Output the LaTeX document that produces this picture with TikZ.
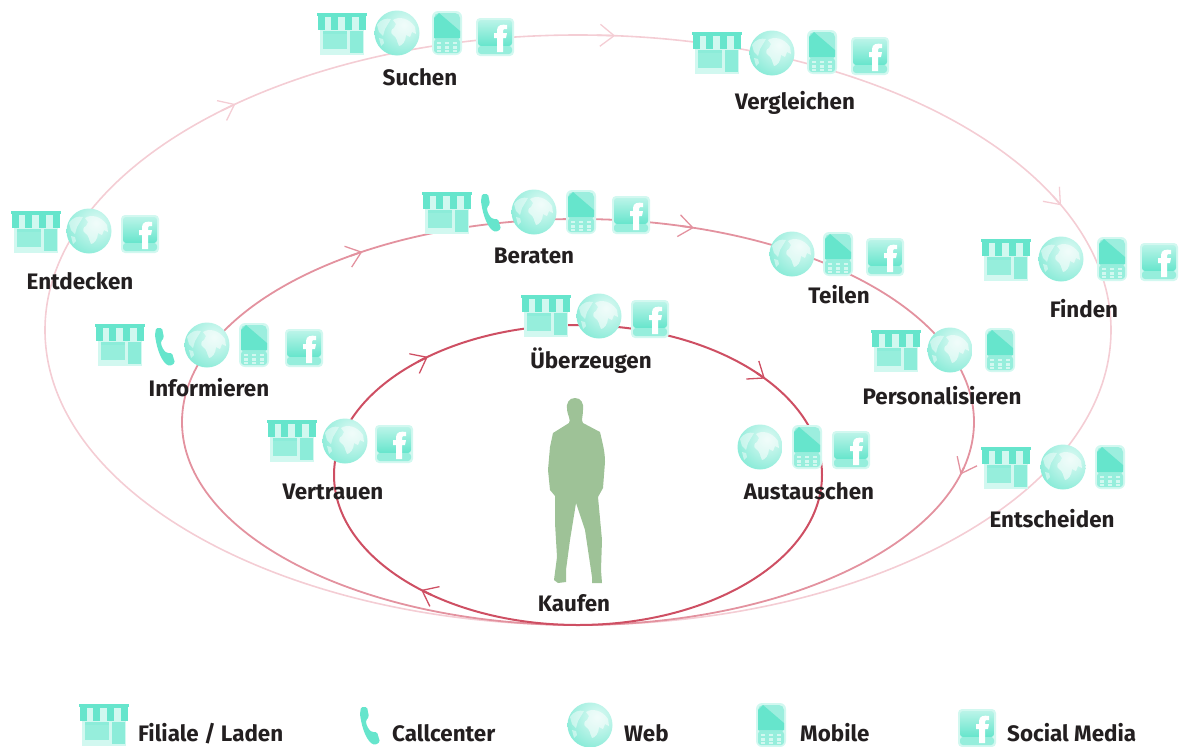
\documentclass[tikz,border=0pt]{standalone}
\usepackage{fontspec}
\setmainfont{Fira Sans}
\usetikzlibrary{arrows.meta}

\definecolor{mintdark}{HTML}{66E5CC}
\definecolor{mintmid}{HTML}{96EEDC}
\definecolor{mintlight}{HTML}{D2F8F0}
\definecolor{loopinner}{HTML}{CE4F63}
\definecolor{loopmiddle}{HTML}{E3929F}
\definecolor{loopouter}{HTML}{F4CDD4}
\definecolor{figuregreen}{HTML}{9EC297}
\definecolor{labeltext}{HTML}{231F20}

\tikzset{
	steplabel/.style={font=\fontsize{22.4}{26}\selectfont\bfseries, text=labeltext, inner sep=0pt, text height=16pt, text depth=5pt},
	legendlabel/.style={steplabel, anchor=west},
	looptip/.style={-{Straight Barb[length=14pt,width=22pt,line width=1.3pt]}},
	shopicon/.pic={
		\fill[mintlight] (-22,-4) rectangle (22,21);
		\fill[mintdark!75!white] (-21,-3) rectangle (21,19);
		\fill[mintlight] (5,-3) rectangle (8,19);
		\fill[mintlight] (-21,-3) rectangle (-19,19);
		\fill[mintlight] (-21,15) rectangle (5,19);
		\fill[mintmid] (-19,0) rectangle (5,15);
		\fill[mintdark] (-25,-21) rectangle (25,-18);
		\fill[mintdark] (-24,-18) rectangle (24,-4);
		\fill[mintlight] (-17,-17) rectangle (-11,-4);
		\fill[mintlight] (-4,-17) rectangle (3,-4);
		\fill[mintlight] (10,-17) rectangle (17,-4);
	},
	globeicon/.pic={
		\begin{scope}
			\clip (0,0) circle (22.5);
			\shade[inner color=mintlight!70!white, outer color=mintdark!85!white] (7,-8) circle (38);
		\end{scope}
		\fill[white, opacity=0.55] (-4,-13) .. controls (2,-17) and (12,-15) .. (18,-6) -- (19,1) -- (15,-1) -- (13,4) -- (9,2)
			.. controls (9,8) and (5,13) .. (2,13) .. controls (0,9) and (0,4) .. (-4,2) .. controls (-7,0) and (-6,-4) .. (-3,-5)
			-- (-1,-9) -- cycle;
		\fill[white, opacity=0.45] (-20,-8) .. controls (-16,-14) and (-11,-15) .. (-6,-14) -- (-9,-9) -- (-12,-4) -- (-14,3)
			-- (-18,-1) -- cycle;
		\fill[white, opacity=0.45] (-18,5) -- (-14,6) -- (-13,10) -- (-16,13) -- cycle;
	},
	mobileicon/.pic={
		\fill[mintlight, rounded corners=6] (-15,-22) rectangle (15,22);
		\fill[mintdark!65!white, rounded corners=5] (-13,-20) rectangle (13,8);
		\fill[mintdark] (-13,-15) -- (-8,-20) -- (13,-2) -- (13,5) -- (-13,5) -- cycle;
		\fill[mintmid, rounded corners=3] (-13,6) rectangle (13,20);
		\foreach \rowy in {10,14.5,18} \foreach \colx in {-8,0,8}
			\fill[mintlight] (\colx-1.6,\rowy-1.2) rectangle (\colx+1.6,\rowy+1.2);
	},
	fbicon/.pic={
		\fill[mintlight, rounded corners=4] (-19,-19) rectangle (19,19);
		\shade[top color=mintlight!60!mintmid, bottom color=mintdark, rounded corners=3] (-17,-17) rectangle (17,9);
		\fill[mintmid, rounded corners=3] (-17,9) rectangle (17,17);
		\fill[white] (2,15) -- (2,1) -- (-1,1) -- (-1,-4) -- (2,-4) -- (2,-7) .. controls (2,-12) and (7,-13) .. (12,-12)
			-- (12,-8) .. controls (9,-8.5) and (8,-8) .. (8,-6) -- (8,-4) -- (12,-4) -- (11,1) -- (8,1) -- (8,15) -- cycle;
	},
	phoneicon/.pic={
		\fill[mintdark, rounded corners=1.5] (-9,-19) -- (-3,-19) -- (-1,-9) -- (-4,-6) .. controls (-4,-1) and (-1,4) .. (2,6)
			-- (7,6) -- (10,16) -- (5,19) .. controls (-3,16) and (-8,3) .. (-10,-12) -- cycle;
	}
}

\begin{document}
\begin{tikzpicture}[x=1pt, y=-1pt]
	\useasboundingbox (0,0) rectangle (1181,747);

	% Three loops around the customer
	\draw[loopouter, line width=1.6pt] (578,330) ellipse [x radius=533, y radius=295];
	\draw[loopmiddle, line width=1.8pt] (578,422) ellipse [x radius=396, y radius=203];
	\draw[loopinner, line width=2pt] (578,475) ellipse [x radius=244, y radius=150];

	% Arrow tips on the loops
	\draw[loopouter, line width=1.6pt, looptip] ({578+533*cos(228)},{330+295*sin(228)}) -- ({578+533*cos(230)},{330+295*sin(230)});
	\draw[loopouter, line width=1.6pt, looptip] ({578+533*cos(272)},{330+295*sin(272)}) -- ({578+533*cos(274)},{330+295*sin(274)});
	\draw[loopouter, line width=1.6pt, looptip] ({578+533*cos(333)},{330+295*sin(333)}) -- ({578+533*cos(335)},{330+295*sin(335)});
	\draw[loopmiddle, line width=1.8pt, looptip] ({578+396*cos(235)},{422+203*sin(235)}) -- ({578+396*cos(237)},{422+203*sin(237)});
	\draw[loopmiddle, line width=1.8pt, looptip] ({578+396*cos(285)},{422+203*sin(285)}) -- ({578+396*cos(287)},{422+203*sin(287)});
	\draw[loopmiddle, line width=1.8pt, looptip] ({578+396*cos(13)},{422+203*sin(13)}) -- ({578+396*cos(15)},{422+203*sin(15)});
	\draw[loopinner, line width=2pt, looptip] ({578+244*cos(229)},{475+150*sin(229)}) -- ({578+244*cos(232)},{475+150*sin(232)});
	\draw[loopinner, line width=2pt, looptip] ({578+244*cos(317)},{475+150*sin(317)}) -- ({578+244*cos(320)},{475+150*sin(320)});
	\draw[loopinner, line width=2pt, looptip] ({578+244*cos(127)},{475+150*sin(127)}) -- ({578+244*cos(130)},{475+150*sin(130)});

	% Customer in the middle
	\fill[figuregreen] (575,398) .. controls (581,398) and (584,403) .. (583,410) .. controls (583,416) and (581,420) .. (583,423)
		-- (600,432) .. controls (603,445) and (605,452) .. (605,462) -- (603,488) -- (598,497) -- (602,540) -- (601,570) -- (602,583)
		-- (592,583) -- (592,577) -- (585,530) -- (576,503) -- (570,540) -- (566,570) -- (566,582) -- (558,583) -- (554,580)
		-- (557,557) -- (555,523) -- (555,496) -- (550,490) -- (548,470) -- (550,447) -- (553,433) -- (569,423)
		.. controls (571,420) and (568,416) .. (567,410) .. controls (566,403) and (569,398) .. (575,398) -- cycle;

	% Suchen
	\pic (suchenshop) at (342,34) {shopicon};
	\pic (suchenglobe) at (397,33) {globeicon};
	\pic (suchenmobile) at (447,33) {mobileicon};
	\pic (suchenfb) at (495,37) {fbicon};
	\node[steplabel] (suchen) at (420,80) {Suchen};

	% Vergleichen
	\pic (vergleichenshop) at (717,53) {shopicon};
	\pic (vergleichenglobe) at (772,53) {globeicon};
	\pic (vergleichenmobile) at (822,52) {mobileicon};
	\pic (vergleichenfb) at (870,56) {fbicon};
	\node[steplabel] (vergleichen) at (795,104) {Vergleichen};

	% Entdecken
	\pic (entdeckenshop) at (36,232) {shopicon};
	\pic (entdeckenglobe) at (89,231) {globeicon};
	\pic (entdeckenfb) at (140,234) {fbicon};
	\node[steplabel] (entdecken) at (80,284) {Entdecken};

	% Beraten
	\pic (beratenshop) at (447,213) {shopicon};
	\pic (beratenphone) at (491,213) {phoneicon};
	\pic (beratenglobe) at (534,212) {globeicon};
	\pic (beratenmobile) at (581,212) {mobileicon};
	\pic (beratenfb) at (631,215) {fbicon};
	\node[steplabel] (beraten) at (534,258) {Beraten};

	% Teilen
	\pic (teilenglobe) at (792,254) {globeicon};
	\pic (teilenmobile) at (838,254) {mobileicon};
	\pic (teilenfb) at (885,257) {fbicon};
	\node[steplabel] (teilen) at (839,298) {Teilen};

	% Finden
	\pic (findenshop) at (1006,260) {shopicon};
	\pic (findenglobe) at (1061,259) {globeicon};
	\pic (findenmobile) at (1112,259) {mobileicon};
	\pic (findenfb) at (1159,262) {fbicon};
	\node[steplabel] (finden) at (1084,312) {Finden};

	% Informieren
	\pic (informierenshop) at (120,345) {shopicon};
	\pic (informierenphone) at (165,347) {phoneicon};
	\pic (informierenglobe) at (207,345) {globeicon};
	\pic (informierenmobile) at (254,345) {mobileicon};
	\pic (informierenfb) at (304,348) {fbicon};
	\node[steplabel] (informieren) at (209,391) {Informieren};

	% Ueberzeugen
	\pic (ueberzeugenshop) at (546,316) {shopicon};
	\pic (ueberzeugenglobe) at (599,316) {globeicon};
	\pic (ueberzeugenfb) at (650,319) {fbicon};
	\node[steplabel] (ueberzeugen) at (591,363) {Überzeugen};

	% Personalisieren
	\pic (personalshop) at (896,351) {shopicon};
	\pic (personalglobe) at (950,350) {globeicon};
	\pic (personalmobile) at (1000,350) {mobileicon};
	\node[steplabel] (personalisieren) at (942,399) {Personalisieren};

	% Vertrauen
	\pic (vertrauenshop) at (292,441) {shopicon};
	\pic (vertrauenglobe) at (345,441) {globeicon};
	\pic (vertrauenfb) at (394,444) {fbicon};
	\node[steplabel] (vertrauen) at (333,494) {Vertrauen};

	% Austauschen
	\pic (austauschenglobe) at (760,447) {globeicon};
	\pic (austauschenmobile) at (807,447) {mobileicon};
	\pic (austauschenfb) at (851,450) {fbicon};
	\node[steplabel] (austauschen) at (809,494) {Austauschen};

	% Entscheiden
	\pic (entscheidenshop) at (1006,468) {shopicon};
	\pic (entscheidenglobe) at (1063,467) {globeicon};
	\pic (entscheidenmobile) at (1110,467) {mobileicon};
	\node[steplabel] (entscheiden) at (1052,522) {Entscheiden};

	\node[steplabel] (kaufen) at (574,606) {Kaufen};

	% Legend
	\pic (legendshop) at (104,725) {shopicon};
	\node[legendlabel] (legendladen) at (138,736) {Filiale / Laden};
	\pic (legendphone) at (370,726) {phoneicon};
	\node[legendlabel] (legendcall) at (392,736) {Callcenter};
	\pic (legendglobe) at (590,725) {globeicon};
	\node[legendlabel] (legendweb) at (624,736) {Web};
	\pic (legendmobile) at (771,725) {mobileicon};
	\node[legendlabel] (legendmobil) at (800,736) {Mobile};
	\pic (legendfb) at (977,728) {fbicon};
	\node[legendlabel] (legendsocial) at (1007,736) {Social Media};
\end{tikzpicture}
\end{document}
